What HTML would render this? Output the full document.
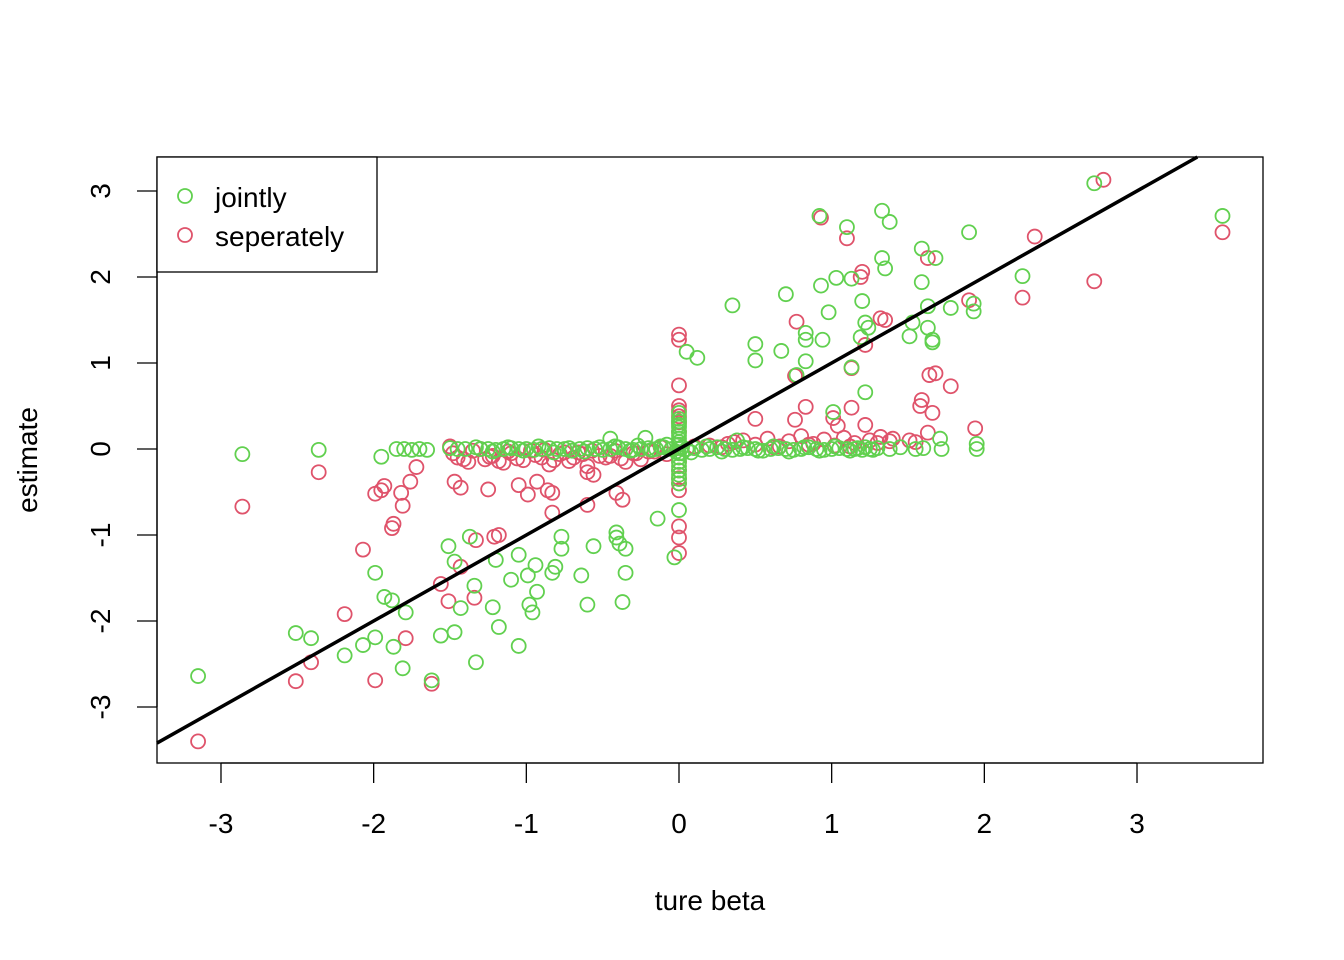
<!DOCTYPE html>
<html><head><meta charset="utf-8"><style>
body{margin:0;background:#fff;}
svg{display:block;font-family:"Liberation Sans",Arial,sans-serif;}
</style></head><body>
<svg id="chart" width="1344" height="960" viewBox="0 0 1344 960">
<rect x="157" y="157" width="1106" height="606" fill="none" stroke="#000" stroke-width="1.3"/>
<g id="pts"></g>
<g id="axes"></g>
<text x="710" y="910" font-size="28" text-anchor="middle">ture beta</text>
<text transform="translate(37,460) rotate(-90)" font-size="28" text-anchor="middle">estimate</text>
<g>
<rect x="157" y="157" width="220" height="115" fill="#fff" stroke="#000" stroke-width="1.3"/>
<circle cx="185" cy="196" r="7" fill="none" stroke="#61D04F" stroke-width="1.8"/>
<text x="215" y="207" font-size="28">jointly</text>
<circle cx="185" cy="235" r="7" fill="none" stroke="#DF536B" stroke-width="1.8"/>
<text x="215" y="246" font-size="28">seperately</text>
</g>
</svg>
<script>
const xTicks=[-3,-2,-1,0,1,2,3];
const yTicks=[-3,-2,-1,0,1,2,3];
const redX=[-3.15,-2.86,-2.36,-2.51,-2.41,-2.19,-2.07,-1.99,-1.99,-1.95,-1.93,-1.88,-1.87,-1.82,-1.79,-1.81,-1.76,-1.72,-1.62,-1.56,-1.51,-1.47,-1.43,-1.43,-1.33,-1.34,-1.25,-1.18,-1.21,-1.05,-0.99,-0.93,-0.86,-0.83,-0.83,-0.60,-0.60,-0.41,-0.37,-0.56,
0,0,0,0,0,0,0,0,0,0,0,0,0,0,0,0,
0.50,0.77,0.76,0.76,0.83,0.93,1.10,1.13,1.13,1.01,1.04,1.19,1.20,1.22,1.22,1.32,1.35,1.32,1.38,1.59,1.58,1.63,1.64,1.68,1.66,1.63,1.78,1.90,1.94,2.25,2.33,2.72,2.78,3.56,1.51,
-1.5,-1.45,-1.38,-1.3,-1.27,-1.22,-1.15,-1.1,-1.02,-0.97,-0.9,-0.85,-0.78,-0.72,-0.66,-0.6,-0.52,-0.48,-0.42,-0.35,-0.3,-0.25,-0.2,-0.12,-0.08,
0.2,0.28,0.36,0.42,0.5,0.58,0.66,0.72,0.8,0.88,0.95,1.02,1.08,1.15,1.25,1.4,1.55,
-1.48,-1.41,-1.35,-1.24,-1.18,-1.12,-1.06,-0.94,-0.88,-0.82,-0.75,-0.69,-0.63,-0.57,-0.45,-0.38,-0.28,-0.16,0.1,0.32,0.62,0.85,1.12,1.3];
const redY=[-3.40,-0.67,-0.27,-2.70,-2.48,-1.92,-1.17,-2.69,-0.52,-0.48,-0.43,-0.92,-0.87,-0.51,-2.20,-0.66,-0.38,-0.21,-2.73,-1.57,-1.77,-0.38,-1.37,-0.45,-1.06,-1.73,-0.47,-1.00,-1.02,-0.42,-0.53,-0.38,-0.48,-0.51,-0.74,-0.27,-0.65,-0.51,-0.59,-0.30,
1.33,1.27,0.74,0.45,0.38,0.31,-0.90,-1.03,-1.21,-0.48,-0.34,-0.15,0.2,-0.4,-0.25,0.5,
0.35,1.48,0.85,0.34,0.49,2.69,2.45,0.94,0.48,0.36,0.27,2.00,2.06,1.21,0.28,1.52,1.50,0.14,0.09,0.57,0.50,2.22,0.86,0.88,0.42,0.19,0.73,1.73,0.24,1.76,2.47,1.95,3.13,2.52,0.10,
0.03,-0.1,-0.15,0.0,-0.12,-0.08,-0.16,-0.05,-0.13,-0.02,-0.1,-0.18,-0.06,-0.14,-0.04,-0.2,-0.08,-0.1,-0.02,-0.15,-0.05,-0.12,-0.03,0.02,-0.06,
0.04,0.02,0.08,0.1,0.05,0.12,0.03,0.09,0.15,0.06,0.11,0.04,0.13,0.07,0.1,0.12,0.08,
-0.05,-0.12,-0.02,-0.09,-0.14,-0.03,-0.11,-0.07,-0.01,-0.13,-0.04,-0.1,-0.06,-0.02,-0.08,-0.11,-0.05,-0.03,0.03,0.06,0.02,0.05,0.03,0.07];
const greenX=[-3.15,-2.86,-2.36,-2.51,-2.41,-2.19,-1.99,-1.95,-1.93,-1.88,-1.99,-2.07,-1.87,-1.79,-1.81,-1.62,-1.56,-1.51,-1.47,-1.43,-1.37,-1.34,-1.33,-1.47,-1.20,-1.18,-1.22,-1.10,-1.05,-1.05,-0.99,-0.98,-0.96,-0.94,-0.93,-0.83,-0.81,-0.77,-0.77,-0.64,-0.60,-0.56,-0.41,-0.41,-0.39,-0.35,-0.35,-0.37,-0.14,-0.03,0,
0.05,0.12,0.35,0.50,0.50,0.67,0.70,0.77,0.83,0.83,0.83,0.92,0.93,0.94,0.98,1.03,1.01,1.10,1.13,1.13,1.20,1.22,1.24,1.19,1.22,1.33,1.38,1.33,1.35,1.51,1.53,1.59,1.68,1.59,1.63,1.63,1.66,1.66,1.78,1.90,1.93,1.93,2.25,2.72,3.56,1.72,1.95,1.95,1.71,
-1.85,-1.8,-1.75,-1.7,-1.65,-1.5,-1.45,-1.4,-1.33,-1.3,-1.25,-1.2,-1.15,-1.1,-1.05,-1.0,-0.95,-0.9,-0.85,-0.8,-0.75,-0.7,-0.65,-0.6,-0.55,-0.5,-0.45,-0.4,-0.35,-0.3,-0.25,-0.2,-0.15,-0.1,-0.05,
0.05,0.1,0.15,0.2,0.25,0.3,0.35,0.4,0.45,0.5,0.55,0.6,0.65,0.7,0.75,0.8,0.85,0.9,0.95,1.0,1.05,1.1,1.15,1.2,1.25,1.3,1.38,1.45,1.55,1.6,-0.45,-0.22,0.02,0.38,
0,0,0,0,0,0,0,0,0,0,0,0,
-1.22,-1.12,-1.02,-0.92,-0.82,-0.72,-0.62,-0.52,-0.42,-0.32,-0.27,-0.18,-0.12,-0.08,-0.02,0.02,0.08,0.18,0.28,0.42,0.52,0.62,0.72,0.82,0.92,1.02,1.12,1.17,1.22,1.27,
0,0,0,0,0,0];
const greenY=[-2.64,-0.06,-0.01,-2.14,-2.20,-2.40,-1.44,-0.09,-1.72,-1.76,-2.19,-2.28,-2.30,-1.90,-2.55,-2.69,-2.17,-1.13,-2.13,-1.85,-1.02,-1.59,-2.48,-1.31,-1.29,-2.07,-1.84,-1.52,-1.23,-2.29,-1.47,-1.81,-1.90,-1.35,-1.66,-1.44,-1.37,-1.16,-1.02,-1.47,-1.81,-1.13,-0.97,-1.03,-1.10,-1.16,-1.44,-1.78,-0.81,-1.26,-0.71,
1.13,1.06,1.67,1.22,1.03,1.14,1.80,0.86,1.35,1.27,1.02,2.71,1.90,1.27,1.59,1.99,0.43,2.58,1.98,0.95,1.72,1.47,1.41,1.30,0.66,2.77,2.64,2.22,2.10,1.31,1.47,2.33,2.22,1.94,1.66,1.41,1.27,1.24,1.64,2.52,1.69,1.60,2.01,3.09,2.71,0.00,0.06,0.00,0.12,
0.0,0.0,-0.01,0.0,-0.01,0.01,0.0,0.0,0.02,0.0,0.0,-0.01,0.0,0.01,0.0,0.0,-0.01,0.0,0.01,0.0,0.0,-0.02,0.0,0.01,0.0,-0.01,0.0,0.02,0.0,-0.01,0.0,0.01,0.0,0.02,0.0,
0.0,0.01,-0.01,0.0,0.02,0.0,-0.01,0.0,0.01,0.0,-0.02,0.0,0.01,0.0,-0.01,0.0,0.02,0.0,-0.01,0.0,0.01,0.0,0.0,-0.01,0.0,0.01,0.0,0.02,0.0,0.01,0.12,0.13,-0.05,0.1,
-0.4,-0.3,-0.2,-0.1,0.05,0.12,0.2,0.28,0.35,0.42,-0.15,0.25,
-0.03,0.02,-0.02,0.03,-0.04,0.01,-0.03,0.02,0.03,-0.02,0.04,-0.01,0.03,0.05,-0.03,0.02,-0.04,0.03,-0.03,0.02,-0.02,0.03,-0.03,0.02,-0.02,0.03,-0.02,0.01,0.02,-0.01,
-0.35,-0.25,-0.05,0.08,0.16,0.32];
const X0=679,XS=152.67,Y0=449,YS=86;
const sx=v=>X0+XS*v, sy=v=>Y0-YS*v;
const NS="http://www.w3.org/2000/svg";
const pts=document.getElementById('pts'), axes=document.getElementById('axes');
function mk(tag,attrs,parent){const e=document.createElementNS(NS,tag);for(const k in attrs)e.setAttribute(k,attrs[k]);parent.appendChild(e);return e;}
function drawSeries(xs,ys,col,name){
  for(let i=0;i<xs.length;i++){
    const c=mk('circle',{cx:sx(xs[i]),cy:sy(ys[i]),r:7,fill:'none',stroke:col,'stroke-width':1.8},pts);
    
    
  }
}
drawSeries(redX,redY,'#DF536B','point-seperately');
drawSeries(greenX,greenY,'#61D04F','point-jointly');
const ln=mk('line',{x1:157,y1:sy((157-X0)/XS),x2:sx((157-Y0)/-YS),y2:157,stroke:'#000','stroke-width':3.5},pts);


const xa=mk('line',{x1:sx(xTicks[0]),x2:sx(xTicks[xTicks.length-1]),y1:763,y2:763,stroke:'#000','stroke-width':1.3},axes);


xTicks.forEach(t=>{
  const tk=mk('line',{x1:sx(t),x2:sx(t),y1:763,y2:783,stroke:'#000','stroke-width':1.3},axes);
  
  
  const tx=mk('text',{x:sx(t),y:833,'font-size':28,'text-anchor':'middle'},axes);
  tx.textContent=String(t);
  
  
});
const ya=mk('line',{x1:157,x2:157,y1:sy(yTicks[0]),y2:sy(yTicks[yTicks.length-1]),stroke:'#000','stroke-width':1.3},axes);


yTicks.forEach(t=>{
  const tk=mk('line',{x1:137,x2:157,y1:sy(t),y2:sy(t),stroke:'#000','stroke-width':1.3},axes);
  
  
  const tx=mk('text',{transform:`translate(110,${sy(t)}) rotate(-90)`,'font-size':28,'text-anchor':'middle'},axes);
  tx.textContent=String(t);
  
  
});
</script>
</body></html>
